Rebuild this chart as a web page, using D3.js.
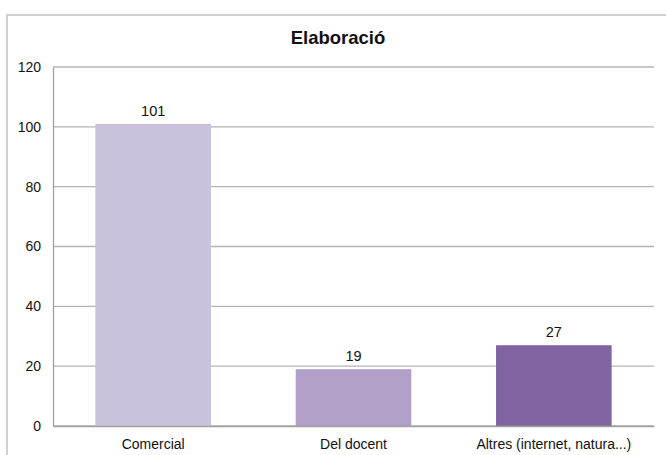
<!DOCTYPE html>
<html>
<head>
<meta charset="utf-8">
<script src="https://cdn.jsdelivr.net/npm/d3@7"></script>
<style>
  html, body { margin: 0; padding: 0; background: #fff; }
  svg { display: block; font-family: "Liberation Sans", Arial, sans-serif; }
</style>
</head>
<body>
<svg id="chart" width="666" height="455"></svg>
<script>
const title = "Elaboració";
const categories = ["Comercial", "Del docent", "Altres (internet, natura...)"];
const values = [101, 19, 27];
const colors = ["#cac1dc", "#b1a1c8", "#8064a2"];
const yTicks = [0, 20, 40, 60, 80, 100, 120];

const svg = d3.select("#chart");
const margin = { left: 53, right: 12, top: 67, bottom: 29 };
const W = 666, H = 455;

// outer chart frame (extends beyond the crop)
svg.append("rect")
  .attr("x", 7).attr("y", 15)
  .attr("width", 700).attr("height", 500)
  .attr("fill", "none").attr("stroke", "#c4c4c4").attr("stroke-width", 1.5);

const x = d3.scaleBand()
  .domain(categories)
  .range([margin.left, W - margin.right])
  .paddingInner(0.423)
  .paddingOuter(0.2115);

const y = d3.scaleLinear()
  .domain([0, 120])
  .range([H - margin.bottom, margin.top]);

// gridlines
svg.append("g")
  .selectAll("line")
  .data(yTicks)
  .join("line")
  .attr("x1", margin.left).attr("x2", W - margin.right)
  .attr("y1", d => y(d)).attr("y2", d => y(d))
  .attr("stroke", "#b4b4b4").attr("stroke-width", 1.3);

// y axis labels
const yAxis = d3.axisLeft(y).tickValues(yTicks).tickSize(0).tickPadding(12);
const gy = svg.append("g")
  .attr("transform", `translate(${margin.left},0)`)
  .call(yAxis);
gy.select(".domain").attr("stroke", "#a0a0a0").attr("stroke-width", 1.3);
gy.selectAll("text")
  .attr("font-size", 14).attr("fill", "#111")
  .attr("font-family", "Liberation Sans, Arial, sans-serif");

// bars
svg.append("g")
  .selectAll("rect")
  .data(values)
  .join("rect")
  .attr("x", (d, i) => x(categories[i]))
  .attr("width", x.bandwidth())
  .attr("y", d => y(d))
  .attr("height", d => y(0) - y(d))
  .attr("fill", (d, i) => colors[i]);

// x axis
const xAxis = d3.axisBottom(x).tickSize(0).tickPadding(13);
const gx = svg.append("g")
  .attr("transform", `translate(0,${y(0)})`)
  .call(xAxis);
gx.select(".domain").attr("stroke", "#a0a0a0").attr("stroke-width", 1.3);
gx.selectAll("text")
  .attr("font-size", 14).attr("fill", "#111")
  .attr("font-family", "Liberation Sans, Arial, sans-serif");

// value labels
svg.append("g")
  .selectAll("text")
  .data(values)
  .join("text")
  .attr("x", (d, i) => x(categories[i]) + x.bandwidth() / 2)
  .attr("y", d => y(d) - 8)
  .attr("text-anchor", "middle")
  .attr("font-size", 14.5)
  .attr("fill", "#111")
  .text(d => d);

// title
svg.append("text")
  .attr("x", 338).attr("y", 43.5)
  .attr("text-anchor", "middle")
  .attr("font-size", 18.5)
  .attr("font-weight", "bold")
  .attr("fill", "#111")
  .text(title);
</script>
</body>
</html>
